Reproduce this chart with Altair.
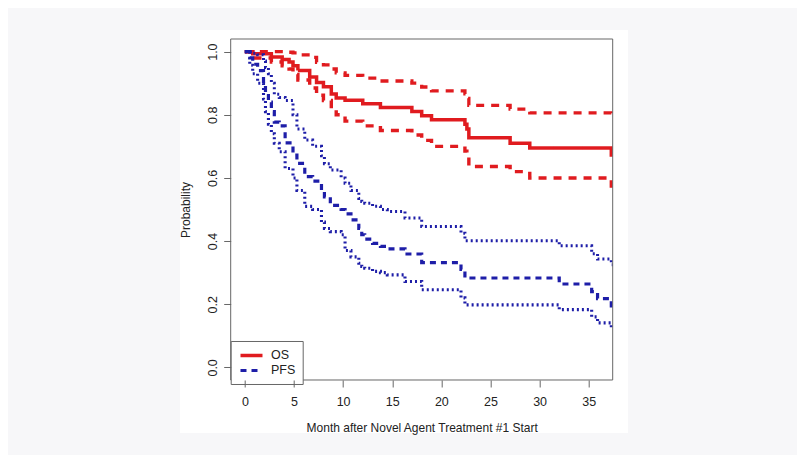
import altair as alt
import pandas as pd

# ---- data (Kaplan-Meier estimates with 95% CI) ----
os_t = [0, 0.8, 2.7, 3.8, 4.5, 4.9, 5.4, 6.6, 7.3, 8.0, 8.8, 9.3, 10.2, 12.0, 13.8,
        17.0, 18.0, 19.0, 22.4, 22.6, 22.8, 27.0, 29.0, 37.3]
os_s = [1.0, 0.993, 0.983, 0.975, 0.967, 0.955, 0.940, 0.920, 0.902, 0.889, 0.866,
        0.853, 0.846, 0.835, 0.823, 0.810, 0.797, 0.784, 0.770, 0.755, 0.727, 0.710,
        0.695, 0.673]
os_hi = [1.0, 1.0, 1.0, 1.0, 0.998, 0.996, 0.990, 0.982, 0.966, 0.958, 0.945, 0.933,
         0.925, 0.916, 0.907, 0.900, 0.888, 0.876, 0.866, 0.852, 0.830, 0.818, 0.806,
         0.790]
os_lo = [1.0, 0.98, 0.967, 0.955, 0.945, 0.928, 0.910, 0.885, 0.862, 0.845, 0.818,
         0.800, 0.780, 0.765, 0.750, 0.736, 0.719, 0.700, 0.685, 0.668, 0.636, 0.620,
         0.600, 0.574]

pfs_t = [0, 0.5, 0.8, 1.3, 1.9, 2.1, 2.4, 2.7, 3.0, 3.5, 4.1, 4.9, 5.3, 6.1, 6.9, 7.8,
         8.1, 8.7, 9.8, 10.2, 10.8, 11.6, 11.9, 12.2, 13.0, 13.8, 14.5, 16.3, 18.0,
         22.0, 22.4, 32.0, 35.3, 35.9, 37.3]
pfs_s = [1.0, 0.98, 0.96, 0.94, 0.90, 0.87, 0.84, 0.81, 0.777, 0.765, 0.711, 0.672,
         0.646, 0.604, 0.590, 0.560, 0.54, 0.513, 0.50, 0.486, 0.467, 0.44, 0.42,
         0.406, 0.393, 0.383, 0.375, 0.359, 0.332, 0.31, 0.283, 0.264, 0.24, 0.218,
         0.195]
pfs_hi = [1.0, 1.0, 0.995, 0.99, 0.97, 0.95, 0.93, 0.90, 0.865, 0.855, 0.845, 0.80,
          0.755, 0.72, 0.70, 0.67, 0.645, 0.625, 0.60, 0.583, 0.56, 0.535, 0.525,
          0.52, 0.51, 0.50, 0.494, 0.473, 0.446, 0.425, 0.401, 0.385, 0.36, 0.343,
          0.325]
pfs_lo = [1.0, 0.957, 0.93, 0.90, 0.85, 0.81, 0.77, 0.74, 0.71, 0.683, 0.63, 0.60,
          0.56, 0.51, 0.50, 0.46, 0.44, 0.43, 0.42, 0.37, 0.35, 0.33, 0.32, 0.314,
          0.304, 0.30, 0.293, 0.272, 0.246, 0.22, 0.198, 0.183, 0.16, 0.141, 0.125]

last_followup = 37.6  # curves run to the right edge of the plot
x_ticks = [0, 5, 10, 15, 20, 25, 30, 35]
y_ticks = [0.0, 0.2, 0.4, 0.6, 0.8, 1.0]

curves = ["OS", "OS lower", "OS upper", "PFS", "PFS lower", "PFS upper"]

rows = []
def add(name, t, v):
    tt = list(t) + [last_followup]
    vv = list(v) + [v[-1]]
    for i, (a, b) in enumerate(zip(tt, vv)):
        rows.append({"month": a, "prob": b, "curve": name, "order": i})

add("OS", os_t, os_s)
add("OS lower", os_t, os_lo)
add("OS upper", os_t, os_hi)
add("PFS", pfs_t, pfs_s)
add("PFS lower", pfs_t, pfs_lo)
add("PFS upper", pfs_t, pfs_hi)
df = pd.DataFrame(rows)

RED = "#e01b1f"
BLUE = "#1e1ea8"
FRAME = "#666666"
FONT = "Liberation Sans"
W, H = 382, 341

legend = alt.Legend(
    values=["OS", "PFS"], title=None, orient="none", legendX=0, legendY=302,
    symbolType="M-2,0H2", symbolSize=121, symbolStrokeWidth=3, symbolOffset=6.3,
    labelFont=FONT, labelFontSize=12.5, labelColor="#222222", labelOffset=12,
    strokeColor=FRAME, fillColor="white", padding=7, rowPadding=-2.6,
)

lines = alt.Chart(df).mark_line(interpolate="step-after", clip=True).encode(
    x=alt.X("month:Q",
            scale=alt.Scale(domain=[-1.44, 37.44], nice=False, zero=False),
            axis=alt.Axis(values=x_ticks, title="Month after Novel Agent Treatment #1 Start",
                          grid=False, domain=False, tickSize=7, tickColor=FRAME,
                          labelFont=FONT, labelFontSize=12.5, labelColor="#222222",
                          labelPadding=9, labelFlush=False,
                          titleFont=FONT, titleFontSize=12, titleFontWeight="normal",
                          titleColor="#222222", titleX=W / 2, titleY=47.7,
                          titleBaseline="middle", titleAlign="center", zindex=1)),
    y=alt.Y("prob:Q",
            scale=alt.Scale(domain=[-0.04, 1.04], nice=False, zero=False),
            axis=alt.Axis(values=y_ticks, format=".1f", title="Probability",
                          grid=False, domain=False, tickSize=7, tickColor=FRAME,
                          labelFont=FONT, labelFontSize=12.5, labelColor="#222222",
                          labelAngle=270, labelAlign="center", labelBaseline="bottom",
                          labelPadding=4, labelFlush=False,
                          titleFont=FONT, titleFontSize=12, titleFontWeight="normal",
                          titleColor="#222222", titleX=-45.2, titleY=H / 2,
                          titleAngle=270, titleBaseline="middle", titleAlign="center",
                          zindex=1)),
    color=alt.Color("curve:N",
                    scale=alt.Scale(domain=curves, range=[RED, RED, RED, BLUE, BLUE, BLUE]),
                    legend=legend),
    strokeDash=alt.StrokeDash("curve:N",
                              scale=alt.Scale(domain=curves,
                                              range=[[1, 0], [8, 7], [8, 7], [6, 5], [2, 3], [2, 3]]),
                              legend=legend),
    strokeWidth=alt.StrokeWidth("curve:N",
                                scale=alt.Scale(domain=curves, range=[3.5, 3, 3, 3, 2.5, 2.5]),
                                legend=None),
    order="order:Q",
)

panel = alt.Chart(pd.DataFrame({"a": [0]})).mark_rect(color="white", clip=False).encode(
    x=alt.value(-50.7), x2=alt.value(397.3), y=alt.value(-9), y2=alt.value(394)
)
frame = alt.Chart(pd.DataFrame({"a": [0]})).mark_rect(
    fillOpacity=0, stroke=FRAME, strokeWidth=1
).encode(x=alt.value(0), x2=alt.value(W), y=alt.value(0), y2=alt.value(H))

chart = alt.layer(panel, lines, frame).properties(
    width=W, height=H,
    autosize=alt.AutoSizeParams(type="none"),
    padding={"left": 222.7, "top": 31, "right": 184, "bottom": 75},
    background="#f7f7f9",
).configure_view(stroke=None)

chart.save("out.html", embed_options={"renderer": "svg", "actions": False})
